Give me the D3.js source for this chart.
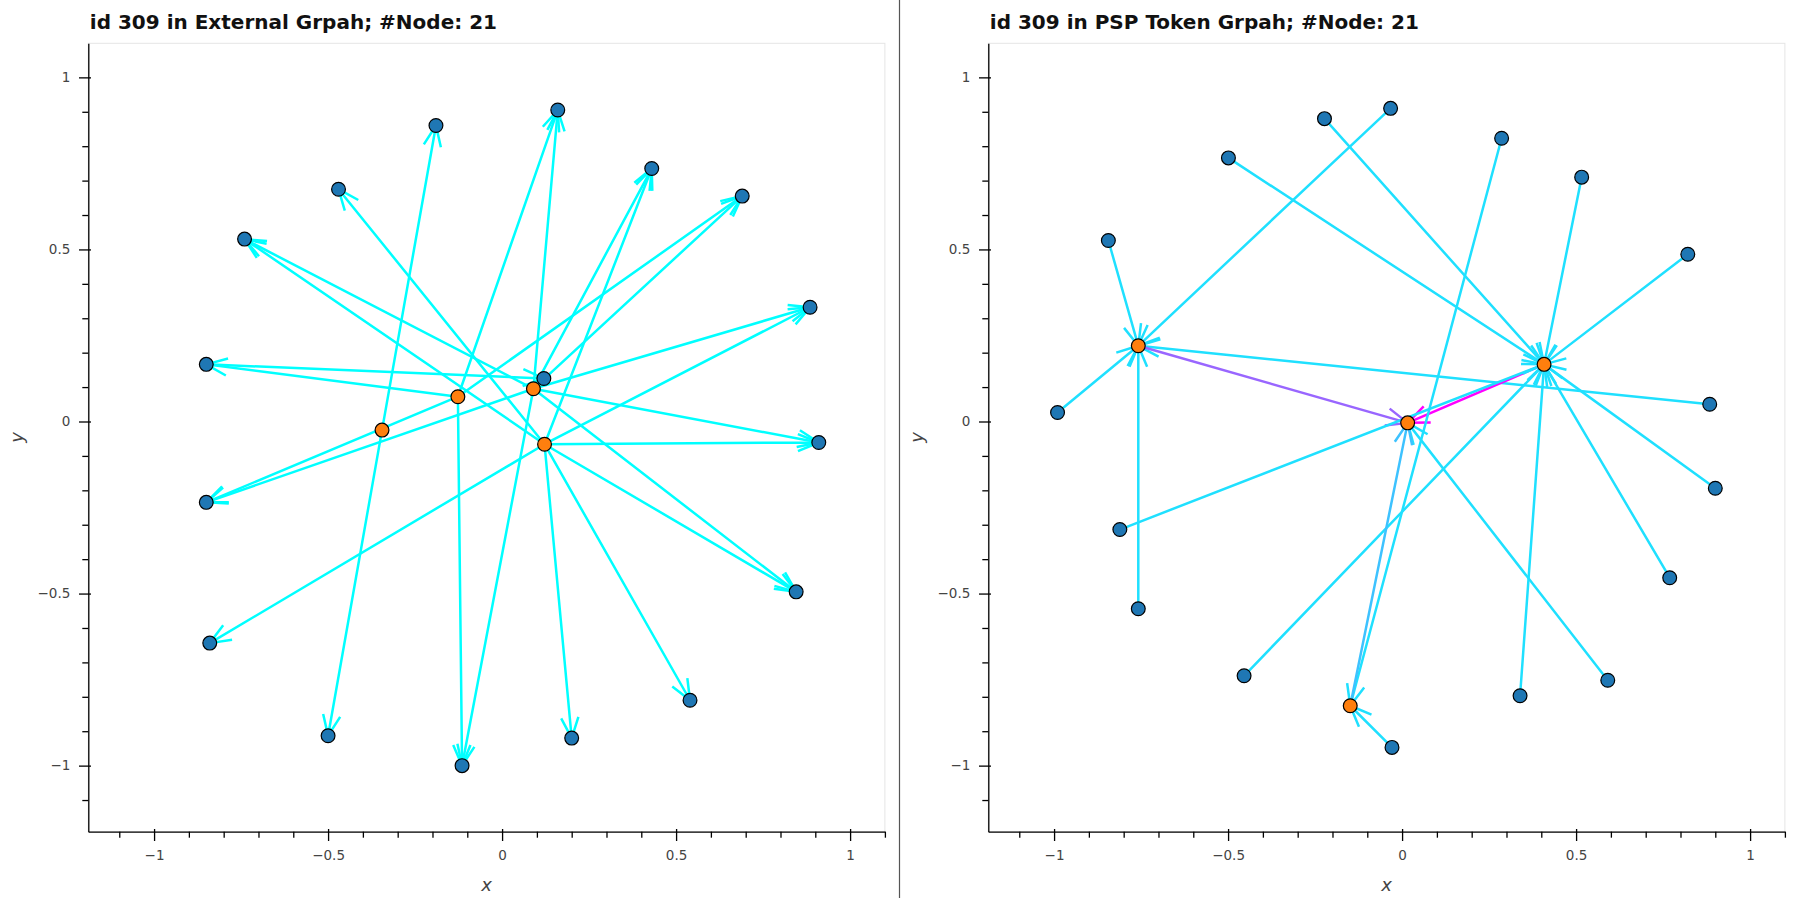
<!DOCTYPE html>
<html>
<head>
<meta charset="utf-8">
<script src="https://cdn.jsdelivr.net/npm/d3@7"></script>
<style>
  body { margin: 0; background: #fff; }
  svg { display: block; }
  text { font-family: "DejaVu Sans", Verdana, sans-serif; }
</style>
</head>
<body>
<svg id="chart" width="1795" height="898"></svg>
<script>
// ---------------- data ----------------
const leftTitle  = "id 309 in External Grpah; #Node: 21";
const rightTitle = "id 309 in PSP Token Grpah; #Node: 21";
const xLabel = "x";
const yLabel = "y";
const majorTicks = [-1, -0.5, 0, 0.5, 1];
const minorTicks = [-1.1, -0.9, -0.8, -0.7, -0.6, -0.4, -0.3, -0.2, -0.1,
                    0.1, 0.2, 0.3, 0.4, 0.6, 0.7, 0.8, 0.9, 1.1];

// Left graph (External)
const leftNodeX = [0.16, -0.19, 0.43, -0.47, 0.69, -0.74, 0.885, -0.85, 0.12, 0.91, -0.85,
                   0.845, -0.84, 0.54, -0.5, 0.2, -0.115, -0.345, -0.127, 0.09, 0.122];
const leftNodeY = [0.905, 0.86, 0.735, 0.675, 0.655, 0.53, 0.332, 0.166, 0.125, -0.061, -0.235,
                   -0.495, -0.644, -0.81, -0.913, -0.92, -1.0, -0.025, 0.072, 0.095, -0.066];
const leftNodeGroup = [0,0,0,0,0,0,0,0,0,0,0,0,0,0,0,0,0,1,1,1,1];
const leftEdgeSource = [17, 17, 18, 18, 18, 18, 18, 19, 19, 19, 19, 19, 19, 19, 19, 19,
                        20, 20, 20, 20, 20, 20, 20, 20, 20, 7];
const leftEdgeTarget = [1, 14, 0, 4, 7, 10, 16, 0, 2, 4, 5, 6, 9, 10, 11, 16,
                        2, 3, 5, 6, 9, 11, 12, 13, 15, 8];
const leftEdgeWeight = [0,0,0,0,0,0,0,0,0,0,0,0,0,0,0,0,0,0,0,0,0,0,0,0,0,0];

// Right graph (PSP Token)
const rightNodeX = [-0.758, 0.408, 0.016, -0.149, -0.033, -0.223, 0.286, 0.516, -0.499, -0.844, 0.821,
                    -0.99, 0.884, 0.90, -0.811, 0.769, -0.758, -0.454, 0.591, 0.339, -0.029];
const rightNodeY = [0.22, 0.166, -0.004, -0.826, 0.91, 0.88, 0.823, 0.71, 0.766, 0.526, 0.486,
                    0.026, 0.05, -0.194, -0.314, -0.454, -0.544, -0.739, -0.752, -0.797, -0.947];
const rightNodeGroup = [1,1,1,1,0,0,0,0,0,0,0,0,0,0,0,0,0,0,0,0,0];
const rightEdgeSource = [4, 9, 11, 16, 12, 0, 1, 5, 8, 7, 10, 13, 15, 19, 17, 14, 18, 6, 3, 20];
const rightEdgeTarget = [0, 0, 0, 0, 0, 2, 2, 1, 1, 1, 1, 1, 1, 1, 1, 1, 2, 3, 2, 3];
const rightEdgeWeight = [0.12, 0.12, 0.12, 0.12, 0.12, 0.6, 1.0, 0.12, 0.12, 0.12, 0.12, 0.12,
                         0.12, 0.12, 0.12, 0.12, 0.12, 0.12, 0.24, 0.12];

// ---------------- layout / style ----------------
const W = 1795, H = 898;
const plotTop = 43.3, plotBottom = 831.7, plotW = 796.6;
const xDomain = [-1.189, 1.1];
const yDomain = [-1.192, 1.099];
const nodeColors = ["#1f77b4", "#ff7f0e"];
const edgeColor = d3.scaleLinear().domain([0, 1]).range(["#00ffff", "#ff00ff"]);
const fmt = v => (v < 0 ? "\u2212" : "") + String(Math.abs(v));
const FONT = "'DejaVu Sans', Verdana, sans-serif";

const svg = d3.select("#chart");
svg.append("rect").attr("width", W).attr("height", H).attr("fill", "#fff");

// separator between the two figures
svg.append("line").attr("x1", 899.5).attr("x2", 899.5).attr("y1", 0).attr("y2", H)
  .attr("stroke", "#555").attr("stroke-width", 1.2);

function drawPanel(x0, title, nx, ny, ngroup, es, et, ew) {
  const g = svg.append("g");
  const x = d3.scaleLinear().domain(xDomain).range([x0, x0 + plotW]);
  const y = d3.scaleLinear().domain(yDomain).range([plotBottom, plotTop]);

  // plot outline
  g.append("rect").attr("x", x0).attr("y", plotTop)
    .attr("width", plotW).attr("height", plotBottom - plotTop)
    .attr("fill", "none").attr("stroke", "#e5e5e5").attr("stroke-width", 1);

  // arrow length as in HoloViews: hypot of data ranges * 0.025
  const ex = d3.extent(nx), ey = d3.extent(ny);
  const L = Math.hypot(ex[1] - ex[0], ey[1] - ey[0]) * 0.025;

  // edges (drawn first)
  const edges = es.map((s, i) => ({ s, t: et[i], w: ew[i] }));
  g.append("g").selectAll("path").data(edges).join("path")
    .attr("d", d => {
      const sx = nx[d.s], sy = ny[d.s], tx = nx[d.t], ty = ny[d.t];
      const rad = Math.atan2(ty - sy, tx - sx);
      const a0x = tx - Math.cos(rad + Math.PI / 8) * L, a0y = ty - Math.sin(rad + Math.PI / 8) * L;
      const a1x = tx - Math.cos(rad - Math.PI / 8) * L, a1y = ty - Math.sin(rad - Math.PI / 8) * L;
      return `M${x(sx)},${y(sy)}L${x(tx)},${y(ty)}` +
             `M${x(a0x)},${y(a0y)}L${x(tx)},${y(ty)}L${x(a1x)},${y(a1y)}`;
    })
    .attr("fill", "none")
    .attr("stroke", d => edgeColor(d.w))
    .attr("stroke-width", 2.5)
    .attr("stroke-linejoin", "bevel")
    .attr("stroke-linecap", "butt");

  // nodes
  const nodes = nx.map((v, i) => ({ x: v, y: ny[i], gr: ngroup[i] }));
  g.append("g").selectAll("circle").data(nodes).join("circle")
    .attr("cx", d => x(d.x)).attr("cy", d => y(d.y)).attr("r", 6.9)
    .attr("fill", d => nodeColors[d.gr])
    .attr("stroke", "#000").attr("stroke-width", 1.2);

  // x axis
  const xa = g.append("g").attr("transform", `translate(0,${plotBottom})`);
  xa.call(d3.axisBottom(x).tickValues(majorTicks).tickSizeInner(9.3).tickSizeOuter(0)
      .tickPadding(9.7).tickFormat(fmt));
  xa.append("g").call(d3.axisBottom(x).tickValues(minorTicks).tickSize(6).tickFormat(""))
    .select(".domain").remove();
  // y axis
  const ya = g.append("g").attr("transform", `translate(${x0},0)`);
  ya.call(d3.axisLeft(y).tickValues(majorTicks).tickSizeInner(9.3).tickSizeOuter(0)
      .tickPadding(8.7).tickFormat(fmt));
  ya.append("g").call(d3.axisLeft(y).tickValues(minorTicks.filter(v => v <= yDomain[1]))
      .tickSize(6).tickFormat("")).select(".domain").remove();

  [xa, ya].forEach(a => {
    a.selectAll(".domain").attr("stroke", "#000").attr("stroke-width", 1.3);
    a.selectAll(".tick line").attr("stroke", "#000").attr("stroke-width", 1.3);
    a.selectAll("text").attr("fill", "#444").style("font-size", "13.5px")
      .style("font-family", FONT);
  });
  // major ticks also extend slightly inside the frame
  xa.selectAll(".tick").filter(d => majorTicks.includes(d)).select("line").attr("y1", -2.7);
  ya.selectAll(".tick").filter(d => majorTicks.includes(d)).select("line").attr("x1", 2.7);

  // axis labels
  g.append("text").attr("x", x0 + plotW / 2).attr("y", 891)
    .attr("text-anchor", "middle").attr("font-style", "italic").attr("font-size", 18)
    .attr("fill", "#444").text(xLabel);
  g.append("text").attr("transform", `translate(${x0 - 65},${(plotTop + plotBottom) / 2}) rotate(-90)`)
    .attr("text-anchor", "middle").attr("font-style", "italic").attr("font-size", 18)
    .attr("fill", "#444").text(yLabel);

  // title
  g.append("text").attr("x", x0 + 1.5).attr("y", 29.3)
    .attr("font-weight", "bold").attr("font-size", 20).attr("fill", "#111").text(title);
}

drawPanel(88.3, leftTitle, leftNodeX, leftNodeY, leftNodeGroup, leftEdgeSource, leftEdgeTarget, leftEdgeWeight);
drawPanel(988.3, rightTitle, rightNodeX, rightNodeY, rightNodeGroup, rightEdgeSource, rightEdgeTarget, rightEdgeWeight);
</script>
</body>
</html>
